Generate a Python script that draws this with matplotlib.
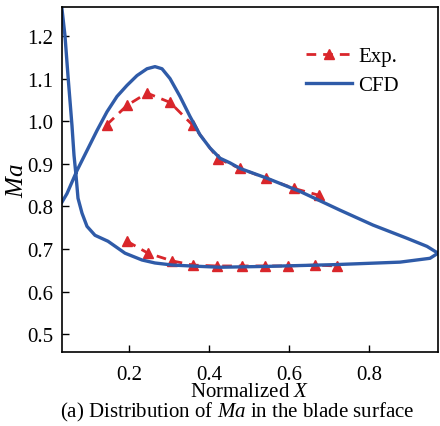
import numpy as np
import matplotlib
matplotlib.use("Agg")
import matplotlib.pyplot as plt

plt.rcParams["font.family"] = ["Liberation Serif", "DejaVu Serif"]
plt.rcParams["mathtext.fontset"] = "custom"
plt.rcParams["mathtext.it"] = "Liberation Serif:italic"
plt.rcParams["mathtext.rm"] = "Liberation Serif"

# CFD curve: pressure side (leading edge -> trailing edge), then suction side back
cfd_x = [0.0325, 0.04, 0.0475, 0.0575, 0.0625, 0.0675, 0.0725, 0.0825, 0.095, 0.115,
         0.1475, 0.19, 0.2325, 0.265, 0.31, 0.3775, 0.4275, 0.545, 0.71, 0.8775,
         0.9525, 0.9725,
         0.945, 0.895, 0.81, 0.7275, 0.6275, 0.545, 0.4775, 0.4525, 0.4275, 0.4025,
         0.3775, 0.3525, 0.3275, 0.3025, 0.2825, 0.265, 0.245, 0.22, 0.195, 0.17,
         0.145, 0.12, 0.095, 0.07, 0.045, 0.0325]
cfd_y = [1.263, 1.200, 1.106, 0.989, 0.920, 0.873, 0.819, 0.784, 0.753, 0.732,
         0.718, 0.690, 0.674, 0.667, 0.662, 0.659, 0.657, 0.659, 0.663, 0.669,
         0.678, 0.690,
         0.706, 0.725, 0.756, 0.791, 0.835, 0.866, 0.889, 0.902, 0.913, 0.937,
         0.968, 1.011, 1.058, 1.100, 1.123, 1.128, 1.123, 1.107, 1.084, 1.058,
         1.022, 0.978, 0.931, 0.884, 0.830, 0.810]

# experimental data
exp_up_x = [0.145, 0.195, 0.245, 0.3025, 0.36, 0.4225, 0.4775, 0.5425, 0.6125, 0.675]
exp_up_y = [0.992, 1.037, 1.066, 1.044, 0.990, 0.912, 0.889, 0.866, 0.842, 0.826]
exp_lo_x = [0.195, 0.2475, 0.3075, 0.36, 0.42, 0.4825, 0.54, 0.5975, 0.665, 0.72]
exp_lo_y = [0.718, 0.690, 0.672, 0.662, 0.660, 0.660, 0.660, 0.660, 0.662, 0.660]

blue = "#2f5ba8"
red = "#d9262b"

fig = plt.figure(figsize=(4.4, 4.27), dpi=100)
ax = fig.add_axes([62 / 440, 1 - 353 / 427, 376 / 440, 345 / 427])

ax.plot(exp_up_x, exp_up_y, "--^", color=red, lw=2, ms=7, dashes=(3.5, 2.5),
        label="Exp.")
ax.plot(exp_lo_x, exp_lo_y, "--^", color=red, lw=2, ms=7, dashes=(3.5, 2.5))
ax.plot(cfd_x, cfd_y, "-", color=blue, lw=2.4, solid_joinstyle="round",
        label="CFD")

ax.set_xlim(0.0325, 0.9725)
ax.set_ylim(0.458, 1.268)
ax.set_xticks([0.2, 0.4, 0.6, 0.8])
ax.set_yticks([0.5, 0.6, 0.7, 0.8, 0.9, 1.0, 1.1, 1.2])
ax.tick_params(direction="in", labelsize=15, length=5, width=1, pad=9)
ax.tick_params(axis="y", pad=6)
for s in ax.spines.values():
    s.set_linewidth(1.2)

ax.set_ylabel("$Ma$", fontsize=18, labelpad=0)
ax.set_xlabel("Normalized $X$", fontsize=15, labelpad=-1)
fig.text(0.54, 0.006, "(a) Distribution of $Ma$ in the blade surface",
         ha="center", va="bottom", fontsize=15)

ax.legend(loc="upper right", bbox_to_anchor=(0.895, 0.885), frameon=False,
          fontsize=15, handlelength=2.2, handletextpad=0.3, labelspacing=0.45,
          borderpad=0, borderaxespad=0)

fig.savefig("out.png", dpi=100)
